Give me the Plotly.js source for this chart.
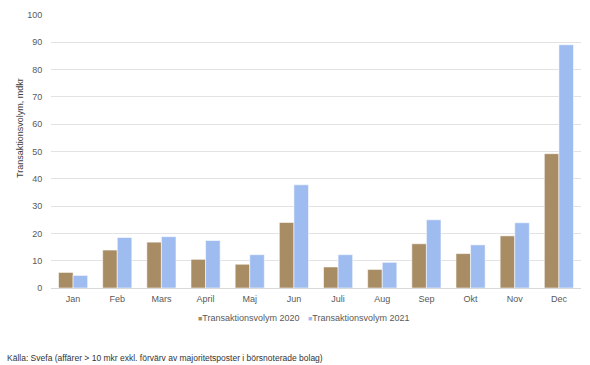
<!DOCTYPE html>
<html>
<head>
<meta charset="utf-8">
<script src="https://cdn.plot.ly/plotly-3.0.1.min.js"></script>
<style>html,body{margin:0;padding:0;background:#fff;}#chart{width:590px;height:365px;}</style>
</head>
<body>
<div id="chart"></div>
<script>
const months = ["Jan","Feb","Mars","April","Maj","Jun","Juli","Aug","Sep","Okt","Nov","Dec"];
const vol2020 = [5.7, 13.9, 16.8, 10.5, 8.7, 24.0, 7.7, 6.8, 16.2, 12.6, 19.1, 49.2];
const vol2021 = [4.6, 18.5, 18.8, 17.4, 12.2, 37.8, 12.2, 9.4, 25.0, 15.8, 23.9, 89.1];
const seriesNames = ["Transaktionsvolym 2020", "Transaktionsvolym 2021"];
const seriesColors = ["#a88c64", "#9ebcef"];
const yTitle = "Transaktionsvolym, mdkr";
const sourceText = "Källa: Svefa (affärer > 10 mkr exkl. förvärv av majoritetsposter i börsnoterade bolag)";

const font = "Liberation Sans, Arial, sans-serif";
const traces = [vol2020, vol2021].map((vals, i) => ({
  type: "bar",
  x: months,
  y: vals,
  name: seriesNames[i],
  marker: {color: seriesColors[i], line: {color: "rgba(255,255,255,0.55)", width: 1}},
  hoverinfo: "none",
  showlegend: false
}));

const legendX = [0.2736, 0.4811];
const annotations = seriesNames.map((n, i) => ({
  xref: "paper", yref: "paper", x: legendX[i], y: -0.11,
  xanchor: "left", yanchor: "middle", showarrow: false,
  text: '<span style="color:' + seriesColors[i] + ';font-size:7px">■</span>' + n,
  font: {family: font, size: 9, color: "#595959"}
}));
annotations.push({
  xref: "paper", yref: "paper", x: (20 - 51) / 530, y: (288 - 128) / 273,
  xanchor: "center", yanchor: "middle", showarrow: false, textangle: -90,
  text: yTitle, font: {family: font, size: 9, color: "#404040"}
});
annotations.push({
  xref: "paper", yref: "paper", x: (5 - 51) / 530, y: (288 - 358) / 273,
  xanchor: "left", yanchor: "middle", showarrow: false,
  text: sourceText, font: {family: font, size: 8.5, color: "#333333"}
});

const layout = {
  width: 590, height: 365,
  margin: {l: 51, r: 9, t: 15, b: 77},
  paper_bgcolor: "#ffffff", plot_bgcolor: "#ffffff",
  barmode: "group", bargap: 0.34, bargroupgap: 0,
  font: {family: font, size: 9, color: "#595959"},
  xaxis: {
    showgrid: false, showline: false, zeroline: false,
    ticks: "outside", ticklen: 2, tickcolor: "rgba(0,0,0,0)",
    tickfont: {family: font, size: 9, color: "#595959"}
  },
  yaxis: {
    range: [0, 100], dtick: 10, showgrid: true, gridcolor: "#e3e3e3", gridwidth: 1,
    zeroline: true, zerolinecolor: "#d9d9d9", zerolinewidth: 1, showline: false,
    ticks: "outside", ticklen: 6, tickcolor: "rgba(0,0,0,0)",
    tickfont: {family: font, size: 9, color: "#595959"}
  },
  showlegend: false,
  annotations: annotations
};

Plotly.newPlot("chart", traces, layout, {displayModeBar: false, staticPlot: true});
</script>
</body>
</html>
